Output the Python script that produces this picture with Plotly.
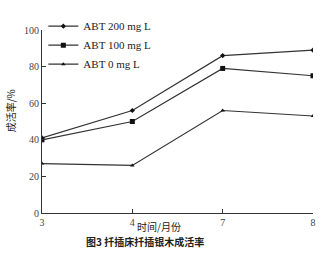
import plotly.graph_objects as go

months = ["3", "4", "7", "8"]
abt200 = [41, 56, 86, 89]
abt100 = [40, 50, 79, 75]
abt0 = [27, 26, 56, 53]
names = ["ABT 200 mg L", "ABT 100 mg L", "ABT 0 mg L"]
yticks = [0, 20, 40, 60, 80, 100]

serif = "Liberation Serif"
cjk = "Noto Sans CJK SC"

fig = go.Figure()
symbols = ["diamond", "square", "triangle-up"]
sizes = [4, 5, 4]
for name, vals, sym, sz in zip(names, [abt200, abt100, abt0], symbols, sizes):
    fig.add_trace(go.Scatter(
        x=months, y=vals, name=name, mode="lines+markers",
        line=dict(color="#333333", width=1.2),
        marker=dict(symbol=sym, size=sz, color="#111111"),
    ))

fig.update_layout(
    width=324, height=255,
    margin=dict(l=42, r=8, t=30, b=42),
    paper_bgcolor="white", plot_bgcolor="white",
    showlegend=True,
    legend=dict(x=0.005, y=1.1, xanchor="left", yanchor="top",
                font=dict(family=serif, size=11, color="#222"),
                bgcolor="rgba(0,0,0,0)", itemwidth=30, tracegroupgap=0),
    font=dict(family=serif, size=10, color="#333"),
)
fig.update_xaxes(
    type="category", range=[0, 3], showgrid=False,
    showline=True, linecolor="#333", linewidth=1,
    ticks="inside", ticklen=4, tickcolor="#333",
    tickfont=dict(family=serif, size=10, color="#444"),
    zeroline=False,
)
fig.update_yaxes(
    range=[0, 100], tickvals=yticks, showgrid=False,
    showline=True, linecolor="#333", linewidth=1,
    ticks="inside", ticklen=4, tickcolor="#333",
    tickfont=dict(family=serif, size=10, color="#444"),
    zeroline=False,
)
fig.add_annotation(text="成活率/%", xref="paper", yref="paper", x=-0.15, y=0.56,
                   textangle=-90, showarrow=False,
                   font=dict(family=cjk, size=10, color="#222"))
fig.add_annotation(text="时间/月份", xref="paper", yref="paper", x=0.43, y=-0.02,
                   yanchor="top", showarrow=False,
                   font=dict(family=cjk, size=10, color="#222"))
fig.add_annotation(text="<b>图3 扦插床扦插银木成活率</b>", xref="paper", yref="paper", x=0.38, y=-0.105,
                   yanchor="top", showarrow=False,
                   font=dict(family=cjk, size=10, color="#222"))

fig.write_html("out.html")
